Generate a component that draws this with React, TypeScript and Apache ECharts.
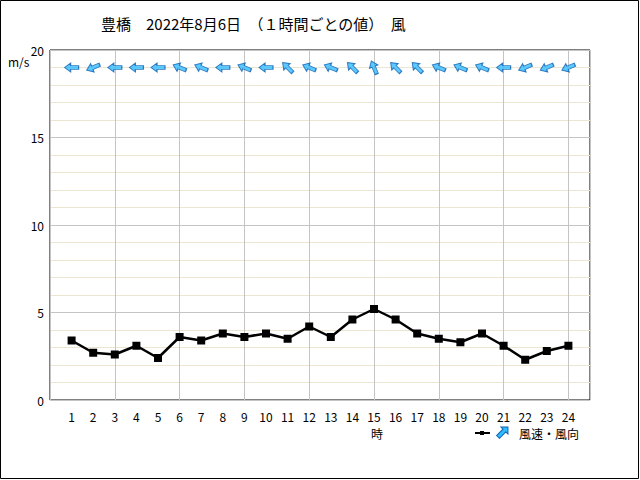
import React, { useEffect, useRef } from "react";
import * as echarts from "echarts";

const hours = [1, 2, 3, 4, 5, 6, 7, 8, 9, 10, 11, 12, 13, 14, 15, 16, 17, 18, 19, 20, 21, 22, 23, 24];
const windSpeed = [3.4, 2.7, 2.6, 3.1, 2.4, 3.6, 3.4, 3.8, 3.6, 3.8, 3.5, 4.2, 3.6, 4.6, 5.2, 4.6, 3.8, 3.5, 3.3, 3.8, 3.1, 2.3, 2.8, 3.1];
// wind "from" direction (16-point compass)
const windDir = ["E", "ENE", "E", "E", "E", "ESE", "ESE", "E", "ESE", "E", "SE", "ESE", "ESE", "SE", "SSE", "SE", "SE", "ESE", "ESE", "ESE", "E", "ENE", "ENE", "ENE"];
const yTicks = [0, 5, 10, 15, 20];
const arrowRow = 19;

const compass: Record<string, number> = {
  N: 0, NNE: 22.5, NE: 45, ENE: 67.5, E: 90, ESE: 112.5, SE: 135, SSE: 157.5,
  S: 180, SSW: 202.5, SW: 225, WSW: 247.5, W: 270, WNW: 292.5, NW: 315, NNW: 337.5,
};

const ARROW = "path://M5,0 L10,6 L7,6 L7,14 L3,14 L3,6 L0,6 Z";
const FONT = "'Noto Sans CJK JP', sans-serif";

export default function App() {
  const ref = useRef<HTMLDivElement>(null);
  useEffect(() => {
    if (!ref.current) return;
    const chart = echarts.init(ref.current, null, { renderer: "svg" });
    const arrowData = hours.map((h, i) => {
      const toward = (compass[windDir[i]] + 180) % 360;
      return { value: [h, arrowRow], symbolRotate: -toward };
    });
    chart.setOption({
      animation: false,
      backgroundColor: "#ffffff",
      textStyle: { fontFamily: FONT },
      title: {
        text: "豊橋　2022年8月6日　（１時間ごとの値）　風",
        left: 96,
        top: 11,
        textStyle: { fontFamily: FONT, fontSize: 15, fontWeight: "normal", color: "#000" },
      },
      grid: {
        left: 50, right: 50, top: 50, bottom: 80,
        show: true, borderColor: "#000", borderWidth: 1, backgroundColor: "transparent",
      },
      xAxis: [
        {
          type: "value", min: 0, max: 25, interval: 1,
          axisLine: { show: false },
          axisTick: { show: false },
          splitLine: { show: false },
          axisLabel: {
            margin: 10, fontSize: 12, color: "#000", fontFamily: FONT,
            formatter: (v: number) => (v >= 1 && v <= 24 ? String(v) : ""),
          },
        },
        {
          type: "value", min: 0, max: 25, interval: 3, position: "bottom",
          axisLine: { show: false }, axisTick: { show: false }, axisLabel: { show: false },
          splitLine: { show: true, lineStyle: { color: "#c4c4c4", width: 1 } },
        },
      ],
      yAxis: [
        {
          type: "value", min: 0, max: 20, interval: 1,
          axisLine: { show: false }, axisTick: { show: false },
          splitLine: { show: true, lineStyle: { color: "#ece5d2", width: 1 } },
          axisLabel: {
            margin: 6, fontSize: 12, color: "#000", fontFamily: FONT,
            formatter: (v: number) => (yTicks.includes(v) ? String(v) : ""),
          },
        },
        {
          type: "value", min: 0, max: 20, interval: 5, position: "left",
          axisLine: { show: false }, axisTick: { show: false }, axisLabel: { show: false },
          splitLine: { show: true, lineStyle: { color: "#c4c4c4", width: 1 } },
        },
      ],
      series: [
        {
          type: "line",
          xAxisIndex: 0, yAxisIndex: 0,
          data: hours.map((h, i) => [h, windSpeed[i]]),
          symbol: "rect", symbolSize: 8,
          lineStyle: { color: "#000", width: 2.5 },
          itemStyle: { color: "#000" },
          z: 5,
        },
        {
          type: "scatter",
          xAxisIndex: 0, yAxisIndex: 0,
          data: arrowData,
          symbol: ARROW,
          symbolSize: [9, 14],
          itemStyle: { color: "#33bbff", borderColor: "#1060b0", borderWidth: 1 },
          z: 6,
        },
      ],
      graphic: [
        { type: "rect", shape: { x: 0.5, y: 0.5, width: 638, height: 478 }, style: { fill: "none", stroke: "#000", lineWidth: 1 }, silent: true },
        { type: "text", left: 8, top: 55, style: { text: "m/s", font: `12px ${FONT}`, fill: "#000" } },
        { type: "text", x: 377, y: 433, style: { text: "時", font: `12px ${FONT}`, fill: "#000", textAlign: "center", textVerticalAlign: "middle" } },
        { type: "line", shape: { x1: 475, y1: 433, x2: 490, y2: 433 }, style: { stroke: "#000", lineWidth: 2 } },
        { type: "rect", shape: { x: 480, y: 431, width: 4, height: 4 }, style: { fill: "#000" } },
        {
          type: "polygon",
          x: 503, y: 432, rotation: -Math.PI / 4,
          shape: { points: [[0, -7], [5, -2], [2, -2], [2, 7], [-2, 7], [-2, -2], [-5, -2]] },
          style: { fill: "#33bbff", stroke: "#1060b0", lineWidth: 1 },
        },
        { type: "text", x: 519, y: 433, style: { text: "風速・風向", font: `12px ${FONT}`, fill: "#000", textVerticalAlign: "middle" } },
      ],
    });
    return () => chart.dispose();
  }, []);
  return (
    <div
      ref={ref}
      style={{ position: "fixed", left: 0, top: 0, width: 640, height: 480, background: "#fff" }}
    />
  );
}
